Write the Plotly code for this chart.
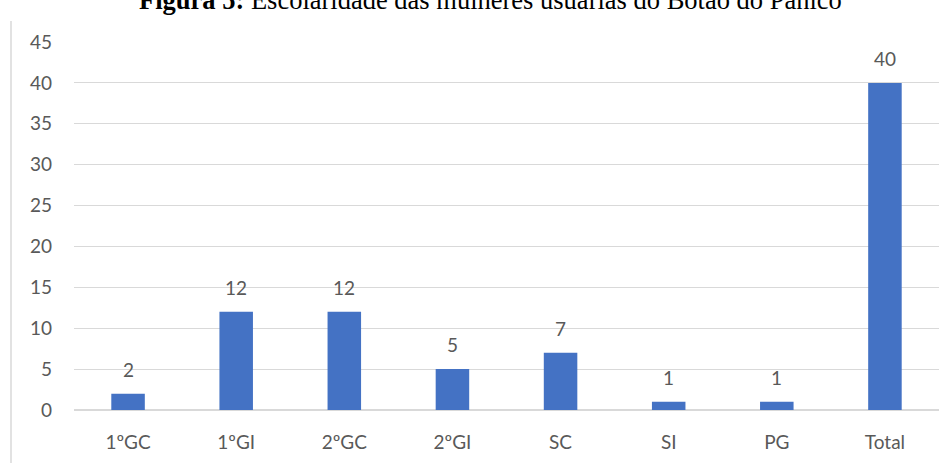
import plotly.graph_objects as go

categories = ["1ºGC", "1ºGI", "2ºGC", "2ºGI", "SC", "SI", "PG", "Total"]
values = [2, 12, 12, 5, 7, 1, 1, 40]
y_ticks = [0, 5, 10, 15, 20, 25, 30, 35, 40, 45]
title_text = "<b>Figura 5:</b> Escolaridade das mulheres usuárias do Botão do Pânico"

W, H = 952, 463
L, R, T, B = 74, 13, 42, 53
ph = H - T - B
pw = W - L - R

FONT = "Lato, sans-serif"
GRAY = "#595959"

fig = go.Figure()
fig.add_trace(go.Bar(
    x=categories, y=values,
    marker=dict(color="#4472C4", line=dict(width=0)),
    hoverinfo="x+y",
))

annotations = []
for c, v in zip(categories, values):
    annotations.append(dict(
        x=c, y=v, xref="x", yref="y", text=str(v), showarrow=False,
        yanchor="bottom", yshift=11,
        font=dict(family=FONT, size=19, color=GRAY),
    ))

# title (partly clipped at top in the reference)
annotations.append(dict(
    x=(490 - L) / pw, y=(H - B - 17) / ph, xref="paper", yref="paper",
    text=title_text, showarrow=False, xanchor="center", yanchor="bottom",
    font=dict(family="Liberation Serif, Times New Roman, serif", size=26.5, color="#000000"),
))

fig.update_layout(
    width=W, height=H,
    margin=dict(l=L, r=R, t=T, b=B, pad=0, autoexpand=False),
    paper_bgcolor="white", plot_bgcolor="white",
    bargap=0.69, showlegend=False,
    annotations=annotations,
    shapes=[dict(
        type="line", xref="paper", yref="paper",
        x0=(11 - L) / pw, x1=(11 - L) / pw,
        y0=(H - B - 21) / ph, y1=-0.3,
        line=dict(color="#d9d9d9", width=1.5),
    )],
    font=dict(family=FONT, size=19, color=GRAY),
)
fig.update_xaxes(
    showgrid=False, showline=True, linecolor="#d9d9d9", linewidth=1,
    ticks="", ticklabelstandoff=15, automargin=False,
    tickfont=dict(family=FONT, size=19, color=GRAY),
)
fig.update_yaxes(
    range=[0, 45], tickvals=y_ticks, showgrid=True, gridcolor="#d9d9d9", gridwidth=1,
    zeroline=True, zerolinecolor="#d9d9d9", showline=False, ticks="",
    ticklabelstandoff=21, automargin=False,
    tickfont=dict(family=FONT, size=19, color=GRAY),
)

fig.write_html("out.html")
